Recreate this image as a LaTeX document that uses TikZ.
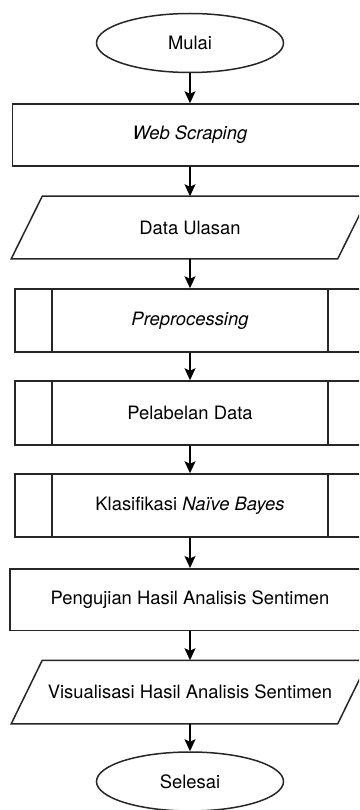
\documentclass[tikz,border=0pt]{standalone}
\usepackage{fontspec}
\setmainfont{TeX Gyre Heros}
\usetikzlibrary{arrows.meta,shapes.geometric}

\begin{document}
\begin{tikzpicture}[x=1pt,y=-1pt,>={Stealth[length=12pt,width=11pt,inset=2.5pt]},
  font=\fontsize{18.4}{22}\selectfont,
  base/.style={draw=black!85,line width=1.5pt,inner sep=0pt,align=center},
  terminal/.style={base,ellipse,minimum width=187pt,minimum height=59pt},
  process/.style={base,rectangle,minimum height=62pt},
  iobox/.style={base,draw=none,rectangle,minimum width=325pt,minimum height=61pt,
    append after command={\pgfextra{\draw[black!85,line width=1.5pt]
      ([xshift=-15.5pt]\tikzlastnode.south west) -- ([xshift=-15.5pt]\tikzlastnode.south east)
      -- ([xshift=15.5pt]\tikzlastnode.north east) -- ([xshift=15.5pt]\tikzlastnode.north west) -- cycle;}}},
  subproc/.style={process,minimum width=350pt,minimum height=63pt,
    path picture={\draw[line width=1.5pt,black!85]
      ([xshift=37pt]path picture bounding box.north west) -- ([xshift=37pt]path picture bounding box.south west)
      ([xshift=-37pt]path picture bounding box.north east) -- ([xshift=-37pt]path picture bounding box.south east);}},
  flow/.style={->,line width=1.5pt,black}]
  \useasboundingbox (0,0) rectangle (359,810);
  \clip (0,0) rectangle (359,810);
  % the boxes run past the right edge, as in the cropped original
  \node[terminal] (mulai) at (190,43) {Mulai};
  \node[process,minimum width=355pt] (scrape) at (190,135) {\textit{Web Scraping}};
  \node[iobox] (data) at (190,227.5) {Data Ulasan};
  \node[subproc] (prep) at (190,320.5) {\textit{Preprocessing}};
  \node[subproc,minimum height=64pt] (label) at (190,413) {Pelabelan Data};
  \node[subproc] (klas) at (190,505.5) {Klasifikasi \textit{Naïve Bayes}};
  \node[process,minimum width=360pt,minimum height=61.5pt] (uji) at (190,599.5) {Pengujian Hasil Analisis Sentimen};
  \node[iobox,minimum height=62pt] (visual) at (190,692) {Visualisasi Hasil Analisis Sentimen};
  \node[terminal] (selesai) at (190,781.5) {Selesai};
  \foreach \from/\to in {mulai/scrape,scrape/data,data/prep,prep/label,label/klas,
    klas/uji,uji/visual,visual/selesai}
    \draw[flow] (\from.south) -- (\to.north);
\end{tikzpicture}
\end{document}
